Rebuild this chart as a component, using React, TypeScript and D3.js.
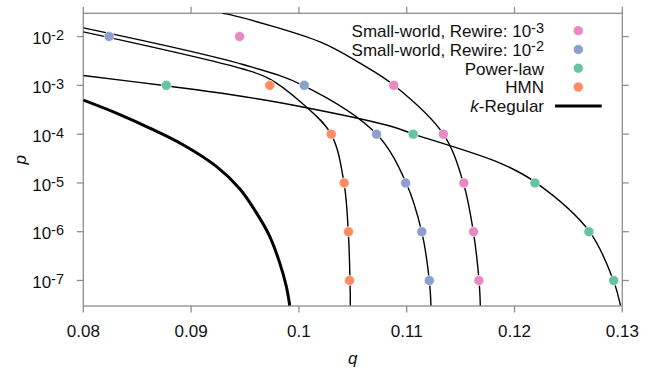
import React from 'react';
import * as d3 from 'd3';

const W = 667;
const H = 372;
const plot = { left: 83.3, right: 622.3, top: 13.3, bottom: 306 };

// Axis ticks
const xTicks = [0.08, 0.09, 0.1, 0.11, 0.12, 0.13];
const xTickLabels = ['0.08', '0.09', '0.1', '0.11', '0.12', '0.13'];
const yTickExps = [-2, -3, -4, -5, -6, -7];
const yDomain = [3e-8, 3e-2];
const xDomain = [0.08, 0.13];

// Simulated points (q, p)
const rewire3Q = [0.0945, 0.1088, 0.1134, 0.1153, 0.1162, 0.1167];
const rewire3P = [1e-2, 1e-3, 1e-4, 1e-5, 1e-6, 1e-7];
const rewire2Q = [0.0824, 0.1005, 0.1072, 0.1099, 0.1114, 0.1121];
const rewire2P = [1e-2, 1e-3, 1e-4, 1e-5, 1e-6, 1e-7];
const powerLawQ = [0.0877, 0.1106, 0.1219, 0.1269, 0.1292];
const powerLawP = [1e-3, 1e-4, 1e-5, 1e-6, 1e-7];
const hmnQ = [0.0973, 0.103, 0.1042, 0.1046, 0.1047];
const hmnP = [1e-3, 1e-4, 1e-5, 1e-6, 1e-7];

// Theoretical curves: q and log10(p)
const rewire3CurveQ = [0.09289, 0.09361, 0.10196, 0.10567, 0.10885, 0.1134, 0.11525, 0.11618, 0.11671, 0.11683];
const rewire3CurveLogP = [-1.521, -1.55, -2.108, -2.545, -3.003, -3.998, -4.995, -5.998, -7.001, -7.512];
const rewire2CurveQ = [0.08, 0.09481, 0.10047, 0.1072, 0.10994, 0.11139, 0.1121, 0.11225];
const rewire2CurveLogP = [-1.822, -2.573, -3.009, -3.998, -4.995, -5.998, -7.001, -7.512];
const hmnCurveQ = [0.08, 0.09481, 0.09723, 0.10011, 0.10298, 0.10418, 0.10458, 0.10474, 0.10477];
const hmnCurveLogP = [-1.904, -2.665, -2.86, -3.331, -3.998, -4.995, -5.998, -7.001, -7.512];
const powerLawCurveQ = [0.08, 0.08767, 0.09361, 0.10011, 0.10845, 0.11063, 0.11866, 0.12195, 0.12694, 0.12917, 0.12983];
const powerLawCurveLogP = [-2.798, -3.009, -3.187, -3.433, -3.834, -3.998, -4.592, -4.989, -5.992, -6.995, -7.512];
const kRegularCurveQ = [0.08, 0.08306, 0.08616, 0.08925, 0.09234, 0.09451, 0.09605, 0.09729, 0.09822, 0.09883, 0.09915];
const kRegularCurveLogP = [-3.302, -3.568, -3.875, -4.217, -4.661, -5.12, -5.609, -6.094, -6.639, -7.118, -7.512];

const COLORS = {
  rewire3: '#e78ac3',
  rewire2: '#8da0cb',
  powerLaw: '#66c2a5',
  hmn: '#fc8d62',
};

const FONT = '"Liberation Sans", Arial, Helvetica, sans-serif';
const AXIS = '#8e8e8e';

type Pt = { q: number; p: number };

const zip = (qs: number[], ps: number[]): Pt[] => qs.map((q, i) => ({ q, p: ps[i] }));
const zipLog = (qs: number[], lps: number[]): Pt[] => qs.map((q, i) => ({ q, p: Math.pow(10, lps[i]) }));

export default function App() {
  const x = d3.scaleLinear().domain(xDomain).range([plot.left, plot.right]);
  const y = d3.scaleLog().domain(yDomain).range([plot.bottom, plot.top]);

  const line = d3
    .line<Pt>()
    .x((d) => x(d.q))
    .y((d) => y(d.p))
    .curve(d3.curveCatmullRom.alpha(0.5));

  const curves = [
    { pts: zipLog(kRegularCurveQ, kRegularCurveLogP), w: 3 },
    { pts: zipLog(powerLawCurveQ, powerLawCurveLogP), w: 1.4 },
    { pts: zipLog(hmnCurveQ, hmnCurveLogP), w: 1.4 },
    { pts: zipLog(rewire2CurveQ, rewire2CurveLogP), w: 1.4 },
    { pts: zipLog(rewire3CurveQ, rewire3CurveLogP), w: 1.4 },
  ];

  const dots = [
    { pts: zip(rewire3Q, rewire3P), color: COLORS.rewire3 },
    { pts: zip(rewire2Q, rewire2P), color: COLORS.rewire2 },
    { pts: zip(powerLawQ, powerLawP), color: COLORS.powerLaw },
    { pts: zip(hmnQ, hmnP), color: COLORS.hmn },
  ];

  const legend = [
    { label: 'Small-world, Rewire: 10', sup: '-3', color: COLORS.rewire3 },
    { label: 'Small-world, Rewire: 10', sup: '-2', color: COLORS.rewire2 },
    { label: 'Power-law', sup: '', color: COLORS.powerLaw },
    { label: 'HMN', sup: '', color: COLORS.hmn },
  ];
  const legendTextX = 544;
  const legendMarkX = 578.3;
  const legendY0 = 30.7;
  const legendStep = 18.8;

  const tick = 6.5;

  return (
    <svg
      width={W}
      height={H}
      viewBox={`0 0 ${W} ${H}`}
      style={{ position: 'absolute', left: 0, top: 0, background: '#fff' }}
      fontFamily={FONT}
    >
      <defs>
        <clipPath id="plot-clip">
          <rect x={plot.left} y={plot.top} width={plot.right - plot.left} height={plot.bottom - plot.top} />
        </clipPath>
      </defs>

      {/* Frame */}
      <rect
        x={plot.left}
        y={plot.top}
        width={plot.right - plot.left}
        height={plot.bottom - plot.top}
        fill="none"
        stroke={AXIS}
        strokeWidth={1.3}
      />

      {/* X ticks, bottom and top */}
      {xTicks.map((t, i) => (
        <g key={`xt${i}`}>
          <line x1={x(t)} x2={x(t)} y1={plot.bottom} y2={plot.bottom + tick} stroke={AXIS} strokeWidth={1.3} />
          <line x1={x(t)} x2={x(t)} y1={plot.top} y2={plot.top - tick} stroke={AXIS} strokeWidth={1.3} />
          <text x={x(t)} y={337.3} textAnchor="middle" fontSize={17} fill="#111">
            {xTickLabels[i]}
          </text>
        </g>
      ))}

      {/* Y ticks, left and right */}
      {yTickExps.map((e) => {
        const yy = y(Math.pow(10, e));
        return (
          <g key={`yt${e}`}>
            <line x1={plot.left - tick} x2={plot.left} y1={yy} y2={yy} stroke={AXIS} strokeWidth={1.3} />
            <line x1={plot.right} x2={plot.right + tick} y1={yy} y2={yy} stroke={AXIS} strokeWidth={1.3} />
            <text x={64} y={yy + 7.6} textAnchor="end" fontSize={17} fill="#111">
              <tspan>10</tspan>
              <tspan fontSize={14.5} dy={-4}>{String(e)}</tspan>
            </text>
          </g>
        );
      })}

      {/* Axis titles */}
      <text x={352.8} y={363.5} textAnchor="middle" fontSize={17} fontStyle="italic" fill="#111">
        q
      </text>
      <text
        transform={`translate(25.5, 159.7) rotate(-90)`}
        textAnchor="middle"
        fontSize={17}
        fontStyle="italic"
        fill="#111"
      >
        p
      </text>

      {/* Curves */}
      <g clipPath="url(#plot-clip)">
        {curves.map((c, i) => (
          <path key={`c${i}`} d={line(c.pts) || ''} fill="none" stroke="#000" strokeWidth={c.w} />
        ))}
      </g>

      {/* Points */}
      {dots.map((s, i) => (
        <g key={`s${i}`}>
          {s.pts.map((d, j) => (
            <circle key={j} cx={x(d.q)} cy={y(d.p)} r={5} fill={s.color} stroke="#fff" strokeWidth={0.6} />
          ))}
        </g>
      ))}

      {/* Legend */}
      {legend.map((l, i) => {
        const yy = legendY0 + i * legendStep;
        return (
          <g key={`l${i}`}>
            <text x={legendTextX} y={yy + 6.3} textAnchor="end" fontSize={17} fill="#111">
              <tspan>{l.label}</tspan>
              {l.sup ? (
                <tspan fontSize={14.5} dy={-4.5}>
                  {l.sup}
                </tspan>
              ) : null}
            </text>
            <circle cx={legendMarkX} cy={yy} r={5} fill={l.color} stroke="#fff" strokeWidth={0.6} />
          </g>
        );
      })}
      {(() => {
        const yy = legendY0 + 4 * legendStep;
        return (
          <g>
            <text x={legendTextX} y={yy + 6.3} textAnchor="end" fontSize={17} fill="#111">
              <tspan fontStyle="italic">k</tspan>
              <tspan>-Regular</tspan>
            </text>
            <line x1={555} x2={601.7} y1={yy} y2={yy} stroke="#000" strokeWidth={3} />
          </g>
        );
      })()}
    </svg>
  );
}
